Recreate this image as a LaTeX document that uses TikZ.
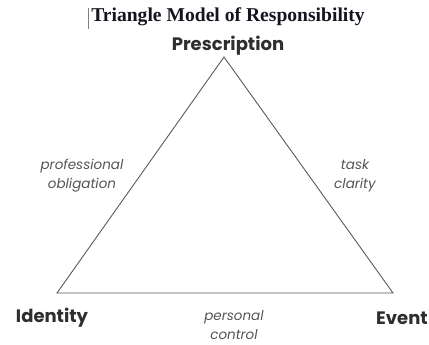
\documentclass[tikz,border=0pt]{standalone}
\usepackage{fontspec}
\setmainfont{Liberation Serif}
\newfontfamily\geo{Poppins}
\definecolor{titlecol}{HTML}{151520}
\definecolor{labcol}{HTML}{2E2E2E}
\definecolor{itcol}{HTML}{555555}
\definecolor{linecol}{HTML}{5A5A5A}
\tikzset{
  corner/.style={font=\geo\bfseries\fontsize{18}{20}\selectfont, text=labcol, inner sep=0pt},
  sidelabel/.style={font=\geo\itshape\fontsize{13.5}{19}\selectfont, text=itcol, align=center, inner sep=0pt},
  edge/.style={draw=linecol, line width=0.9pt}
}
\begin{document}
\begin{tikzpicture}[x=1pt,y=-1pt]
\useasboundingbox (0,0) rectangle (429,345);
\fill[white] (0,0) rectangle (429,345);
\node[font=\bfseries\fontsize{19.6}{22}\selectfont, text=titlecol, inner sep=0pt] (title) at (228,17) {Triangle Model of Responsibility};
\coordinate (cur1) at (88,8);
\coordinate (cur2) at (88,29);
\draw[gray, line width=0.8pt] (cur1) -- (cur2);
\coordinate (P) at (224,57);
\coordinate (I) at (57,293);
\coordinate (E) at (393,293);
\draw[edge] (P) -- (I) -- (E) -- cycle;
\node[corner] (presc) at (228,46) {Prescription};
\node[corner] (ident) at (52,318) {Identity};
\node[corner] (event) at (402,318) {Event};
\node[sidelabel] (po) at (82,176) {professional\\obligation};
\node[sidelabel] (tc) at (355,176) {task\\clarity};
\node[sidelabel] (pc) at (234,325) {personal\\control};
\end{tikzpicture}
\end{document}
